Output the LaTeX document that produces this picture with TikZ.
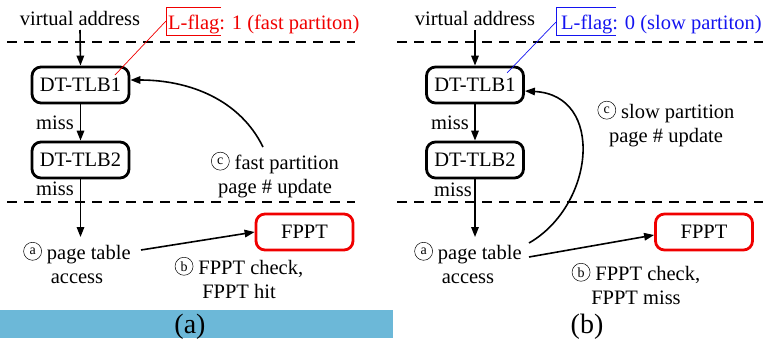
\documentclass[tikz,border=0pt]{standalone}
\usepackage{fontspec}
\setmainfont{Liberation Serif}
\newfontfamily\labelfont{Liberation Serif}
\usetikzlibrary{arrows.meta}
\definecolor{barblue}{RGB}{108,184,216}
\definecolor{flagred}{RGB}{240,0,0}
\definecolor{flagblue}{RGB}{20,20,240}
% circled step letter
\newcommand\stepmark[1]{\tikz[baseline=-8pt,x=1pt,y=1pt]{\draw[line width=0.5pt] (0,0) circle[radius=9pt];\node[inner sep=0pt,font=\labelfont\fontsize{14}{14}\selectfont] at (0,0) {#1};}}
\begin{document}
\begin{tikzpicture}[x=1pt,y=-1pt,
  txt/.style={font=\labelfont\fontsize{20.5}{24.5}\selectfont,inner sep=0pt,align=center},
  tlb/.style={draw,line width=2.8pt,rounded corners=9pt,minimum width=97pt,minimum height=36pt,inner sep=0pt,font=\labelfont\fontsize{20.5}{24.5}\selectfont},
  ppt/.style={tlb,draw=flagred},
  arr/.style={line width=1.6pt,-{Triangle[length=10pt,width=7.5pt]}},
  sep/.style={line width=2pt,dash pattern=on 10pt off 7pt},
  thinline/.style={line width=0.7pt}]
\useasboundingbox (0,0) rectangle (763,338);
\fill[barblue] (0,310) rectangle (393,338);

% ---------- panel (a) ----------
\draw[sep] (7,42) -- (355,42);
\draw[sep] (7,202) -- (355,202);
\node[txt,anchor=base] (vaA) at (80,25) {virtual address};
\node[txt,anchor=base west,text=flagred] (lfA) at (168,29) {L-flag: 1 (fast partiton)};
\draw[thinline,flagred] (221,7) -- (166,7) -- (166,35) -- (221,35);
\coordinate (lfboxA) at (166,21);
\node[tlb] (t1A) at (80.5,85) {DT-TLB1};
\node[tlb] (t2A) at (80.5,160) {DT-TLB2};
\coordinate (tipA) at (115,75);
\draw[thinline,flagred] (lfboxA) -- (tipA);
\draw[arr] ([yshift=-5pt]vaA.base) -- (t1A.north);
\draw[arr] (t1A.south) -- (t2A.north);
\node[txt,anchor=base] (m1A) at (55,129) {miss};
\node[txt,anchor=base] (m2A) at (55,195) {miss};
\node[txt] (paA) at (77,263) {\stepmark{a} page table\\access};
\coordinate (paendA) at (80.5,237);
\draw[arr] (t2A.south) -- (paendA);
\node[ppt] (fpA) at (304.5,232) {FPPT};
\coordinate (paoutA) at (141,250);
\draw[arr] (paoutA) -- (fpA.west);
\node[txt] (chkA) at (239,278) {\stepmark{b} FPPT check,\\FPPT hit};
\node[txt] (updA) at (275,175) {\stepmark{c} fast partition\\page \# update};
\coordinate (upoutA) at (263,147);
\draw[arr] (upoutA) .. controls (240,100) and (190,80) .. ([yshift=5pt]t1A.east);
\node[font=\labelfont\fontsize{28}{30}\selectfont,inner sep=0pt,anchor=base] (capA) at (190,333) {(a)};

% ---------- panel (b) ----------
\draw[sep] (397,42) -- (763,42);
\draw[sep] (397,202) -- (763,202);
\node[txt,anchor=base] (vaB) at (475,25) {virtual address};
\node[txt,anchor=base west,text=flagblue] (lfB) at (561,29) {L-flag: 0 (slow partiton)};
\draw[thinline,flagblue] (616,7) -- (556,7) -- (556,35) -- (616,35);
\coordinate (lfboxB) at (556,22);
\node[tlb] (t1B) at (475,85) {DT-TLB1};
\node[tlb] (t2B) at (475,160) {DT-TLB2};
\coordinate (tipB) at (507,73);
\draw[thinline,flagblue] (lfboxB) -- (tipB);
\draw[arr] ([yshift=-5pt]vaB.base) -- (t1B.north);
\draw[arr] (t1B.south) -- (t2B.north);
\node[txt,anchor=base] (m1B) at (450,129) {miss};
\node[txt,anchor=base] (m2B) at (453,196) {miss};
\node[txt] (paB) at (468,263) {\stepmark{a} page table\\access};
\coordinate (paendB) at (475,237);
\draw[arr] (t2B.south) -- (paendB);
\node[ppt] (fpB) at (704,232) {FPPT};
\coordinate (paoutB) at (529,257);
\draw[arr] (paoutB) -- ([yshift=-3pt]fpB.west);
\node[txt] (chkB) at (636,284) {\stepmark{b} FPPT check,\\FPPT miss};
\node[txt] (updB) at (666,124) {\stepmark{c} slow partition\\page \# update};
\coordinate (upoutB) at (529,243);
\draw[arr] (upoutB) .. controls (595,205) and (605,95) .. ([yshift=-6pt]t1B.east);
\node[font=\labelfont\fontsize{28}{30}\selectfont,inner sep=0pt,anchor=base] (capB) at (587,333) {(b)};
\end{tikzpicture}
\end{document}
